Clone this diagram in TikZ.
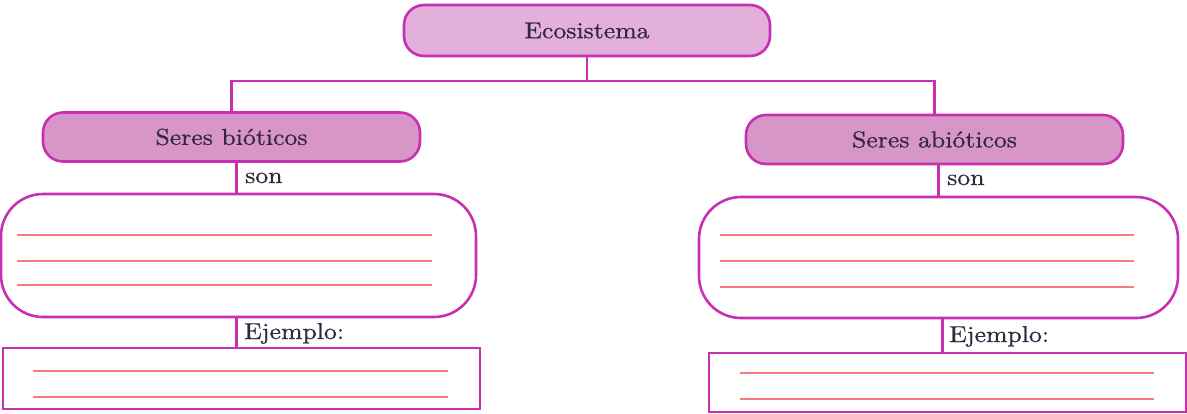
\documentclass[tikz,border=0pt]{standalone}
\usepackage{fontspec}
\setmainfont{lmroman10-regular.otf}[FakeStretch=1.12, FakeBold=0.8]
\definecolor{edge}{RGB}{200,48,178}
\definecolor{toppink}{RGB}{226,176,218}
\definecolor{midpink}{RGB}{216,150,200}
\definecolor{rule}{RGB}{246,122,128}
\definecolor{ink}{RGB}{52,40,62}

\begin{document}
\begin{tikzpicture}[x=1pt,y=-1pt,
  txt/.style={text=ink, font=\fontsize{23}{26}\selectfont},
  box/.style={draw=edge, line width=2.6pt, inner sep=0pt, txt},
  headbox/.style={box, rounded corners=20pt},
  answerbox/.style={box, rounded corners=42pt},
  examplebox/.style={box},
  conn/.style={draw=edge, line width=2.8pt},
  writeline/.style={draw=rule, line width=1.6pt},
  tag/.style={txt, anchor=base west, inner sep=0pt}]
\useasboundingbox (0,0) rectangle (1187,413);

% top concept and the two branches
\node[headbox, fill=toppink, minimum width=366pt, minimum height=51pt] (eco) at (587,30.5) {Ecosistema};
\node[headbox, fill=midpink, minimum width=377pt, minimum height=49pt] (bio) at (231.5,137) {Seres bióticos};
\node[headbox, fill=midpink, minimum width=377pt, minimum height=49pt] (abio) at (934.5,139.5) {Seres abióticos};

% boxes to fill in
\node[answerbox, minimum width=475pt, minimum height=123pt] (bigL) at (238.5,255.5) {};
\node[answerbox, minimum width=479pt, minimum height=121pt] (bigR) at (938.5,257.5) {};
\node[examplebox, minimum width=477pt, minimum height=61pt] (exL) at (241.5,378.5) {};
\node[examplebox, minimum width=477pt, minimum height=59pt] (exR) at (947.5,382.5) {};

% tree connectors
\coordinate (bus) at (0,81);
\draw[conn] (eco.south) -- (eco.south |- bus);
\draw[conn] (bio.north) -- (bio.north |- bus) -| (abio.north);
\draw[conn] ([xshift=-2pt]bigL.north) -- ([xshift=-2pt]bigL.north |- bio.south);
\draw[conn] (bigR.north) -- (bigR.north |- abio.south);
\draw[conn] ([xshift=-5pt]exL.north) -- ([xshift=-5pt]exL.north |- bigL.south);
\draw[conn] ([xshift=-5pt]exR.north) -- ([xshift=-5pt]exR.north |- bigR.south);

% link words
\node[tag] (sonL) at (245,183) {son};
\node[tag] (sonR) at (947,185) {son};
\node[tag] (ejL) at (244,339) {Ejemplo:};
\node[tag] (ejR) at (949,342) {Ejemplo:};

% writing lines
\foreach \y in {235,261,285} \draw[writeline] (17,\y) -- (432,\y);
\foreach \y in {235,261,287} \draw[writeline] (720,\y) -- (1134,\y);
\foreach \y in {371,397} \draw[writeline] (33,\y) -- (448,\y);
\foreach \y in {373,399} \draw[writeline] (740,\y) -- (1154,\y);
\end{tikzpicture}
\end{document}
